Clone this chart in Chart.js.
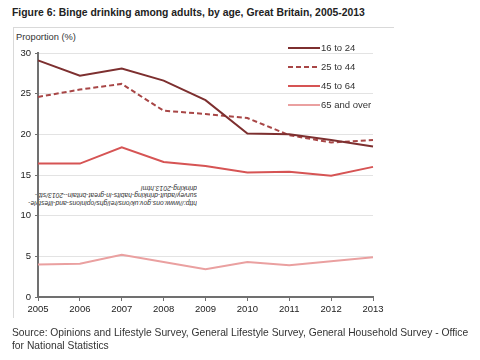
<!DOCTYPE html>
<html lang="en">

<head>
    <meta charset="UTF-8">
    <title>Binge drinking among adults</title>
    <style>
        body {
            margin: 0;
            width: 480px;
            height: 360px;
            background: #fff;
            font-family: "Liberation Sans", Arial, sans-serif;
            color: #222;
            position: relative;
            overflow: hidden;
        }

        #title {
            position: absolute;
            left: 12px;
            top: 7px;
            font-size: 10.4px;
            font-weight: bold;
        }

        #frame {
            position: absolute;
            left: 13px;
            top: 27px;
            width: 380px;
            height: 290px;
            border-top: 1px solid #d9d9d9;
            border-left: 1px solid #d9d9d9;
        }

        #ytitle {
            position: absolute;
            left: 16px;
            top: 32px;
            font-size: 9.3px;
            color: #333;
        }

        #url {
            position: absolute;
            left: 33px;
            top: 184px;
            width: 164px;
            font-size: 6.8px;
            font-style: italic;
            line-height: 7.5px;
            color: #333;
            white-space: nowrap;
            transform: rotate(180deg);
        }

        #source {
            position: absolute;
            left: 12px;
            top: 326px;
            font-size: 10.3px;
            line-height: 13px;
            color: #333;
        }

        #chart-wrap {
            position: absolute;
            left: 0;
            top: 0;
            width: 480px;
            height: 360px;
        }
    </style>
</head>

<body>
    <div id="frame"></div>
    <div id="title">Figure 6: Binge drinking among adults, by age, Great Britain, 2005-2013</div>
    <div id="ytitle">Proportion (%)</div>
    <div id="url">http://www.ons.gov.uk/ons/rel/ghs/opinions-and-lifestyle-<br>survey/adult-drinking-habits-in-great-britain--2013/stb-<br>drinking-2013.html</div>
    <div id="chart-wrap">
        <canvas id="myChart" width="480" height="360"></canvas>
    </div>
    <div id="source">Source: Opinions and Lifestyle Survey, General Lifestyle Survey, General Household Survey - Office<br>for National Statistics</div>

    <script src="https://cdn.jsdelivr.net/npm/chart.js"></script>

    <script>
        // Years along the x axis
        const years = ['2005', '2006', '2007', '2008', '2009', '2010', '2011', '2012', '2013'];

        // Proportion (%) by age group
        const age16to24 = [29.1, 27.2, 28.1, 26.6, 24.2, 20.1, 20.0, 19.3, 18.5];
        const age25to44 = [24.6, 25.5, 26.2, 22.9, 22.5, 22.0, 19.9, 19.0, 19.3];
        const age45to64 = [16.4, 16.4, 18.4, 16.6, 16.1, 15.3, 15.4, 14.9, 16.0];
        const age65plus = [4.0, 4.1, 5.2, 4.3, 3.4, 4.3, 3.9, 4.4, 4.9];

        const seriesNames = ['16 to 24', '25 to 44', '45 to 64', '65 and over'];
        const yTicks = [0, 5, 10, 15, 20, 25, 30];

        // Legend drawn top right, overlapping the plot like the original
        const legendPlugin = {
            id: 'sideLegend',
            afterDraw(chart) {
                const ctx = chart.ctx;
                ctx.save();
                ctx.font = '9.5px "Liberation Sans", Arial, sans-serif';
                ctx.textBaseline = 'middle';
                chart.data.datasets.forEach(function (ds, i) {
                    const y = 48 + i * 19;
                    ctx.strokeStyle = ds.borderColor;
                    ctx.lineWidth = ds.borderWidth;
                    ctx.setLineDash(ds.borderDash || []);
                    ctx.beginPath();
                    ctx.moveTo(288, y);
                    ctx.lineTo(320, y);
                    ctx.stroke();
                    ctx.setLineDash([]);
                    ctx.fillStyle = '#333';
                    ctx.fillText(ds.label, 321, y);
                });
                ctx.restore();
            }
        };

        const data = {
            labels: years,
            datasets: [{
                label: seriesNames[0],
                data: age16to24,
                borderColor: 'rgb(125, 47, 47)',
                borderWidth: 2
            }, {
                label: seriesNames[1],
                data: age25to44,
                borderColor: 'rgb(168, 70, 70)',
                borderWidth: 2,
                borderDash: [5, 3]
            }, {
                label: seriesNames[2],
                data: age45to64,
                borderColor: 'rgb(214, 84, 84)',
                borderWidth: 2
            }, {
                label: seriesNames[3],
                data: age65plus,
                borderColor: 'rgb(234, 160, 160)',
                borderWidth: 2
            }]
        };

        const config = {
            type: 'line',
            data: data,
            options: {
                responsive: false,
                animation: false,
                layout: {
                    padding: { top: 53, right: 107, bottom: 0, left: 0 }
                },
                elements: {
                    point: { radius: 0 },
                    line: { tension: 0 }
                },
                plugins: {
                    legend: { display: false },
                    tooltip: { enabled: false }
                },
                scales: {
                    x: {
                        offset: false,
                        afterFit: function (scale) { scale.height = 63; },
                        grid: {
                            drawOnChartArea: false,
                            tickLength: 4,
                            tickColor: '#707070'
                        },
                        border: { color: '#707070', width: 2 },
                        ticks: {
                            color: '#222',
                            padding: 3,
                            maxRotation: 0,
                            autoSkip: false,
                            font: { family: '"Liberation Sans", Arial, sans-serif', size: 9.5 }
                        }
                    },
                    y: {
                        min: 0,
                        max: 30,
                        afterFit: function (scale) { scale.width = 38; },
                        afterBuildTicks: function (scale) {
                            scale.ticks = yTicks.map(function (v) { return { value: v }; });
                        },
                        grid: {
                            color: '#e3e3e3',
                            tickLength: 3,
                            tickColor: '#707070'
                        },
                        border: { color: '#707070', width: 2 },
                        ticks: {
                            color: '#222',
                            padding: 4,
                            font: { family: '"Liberation Sans", Arial, sans-serif', size: 9.5 }
                        }
                    }
                }
            },
            plugins: [legendPlugin]
        };

        const myChart = new Chart(
            document.getElementById('myChart'),
            config
        );
    </script>
</body>

</html>
